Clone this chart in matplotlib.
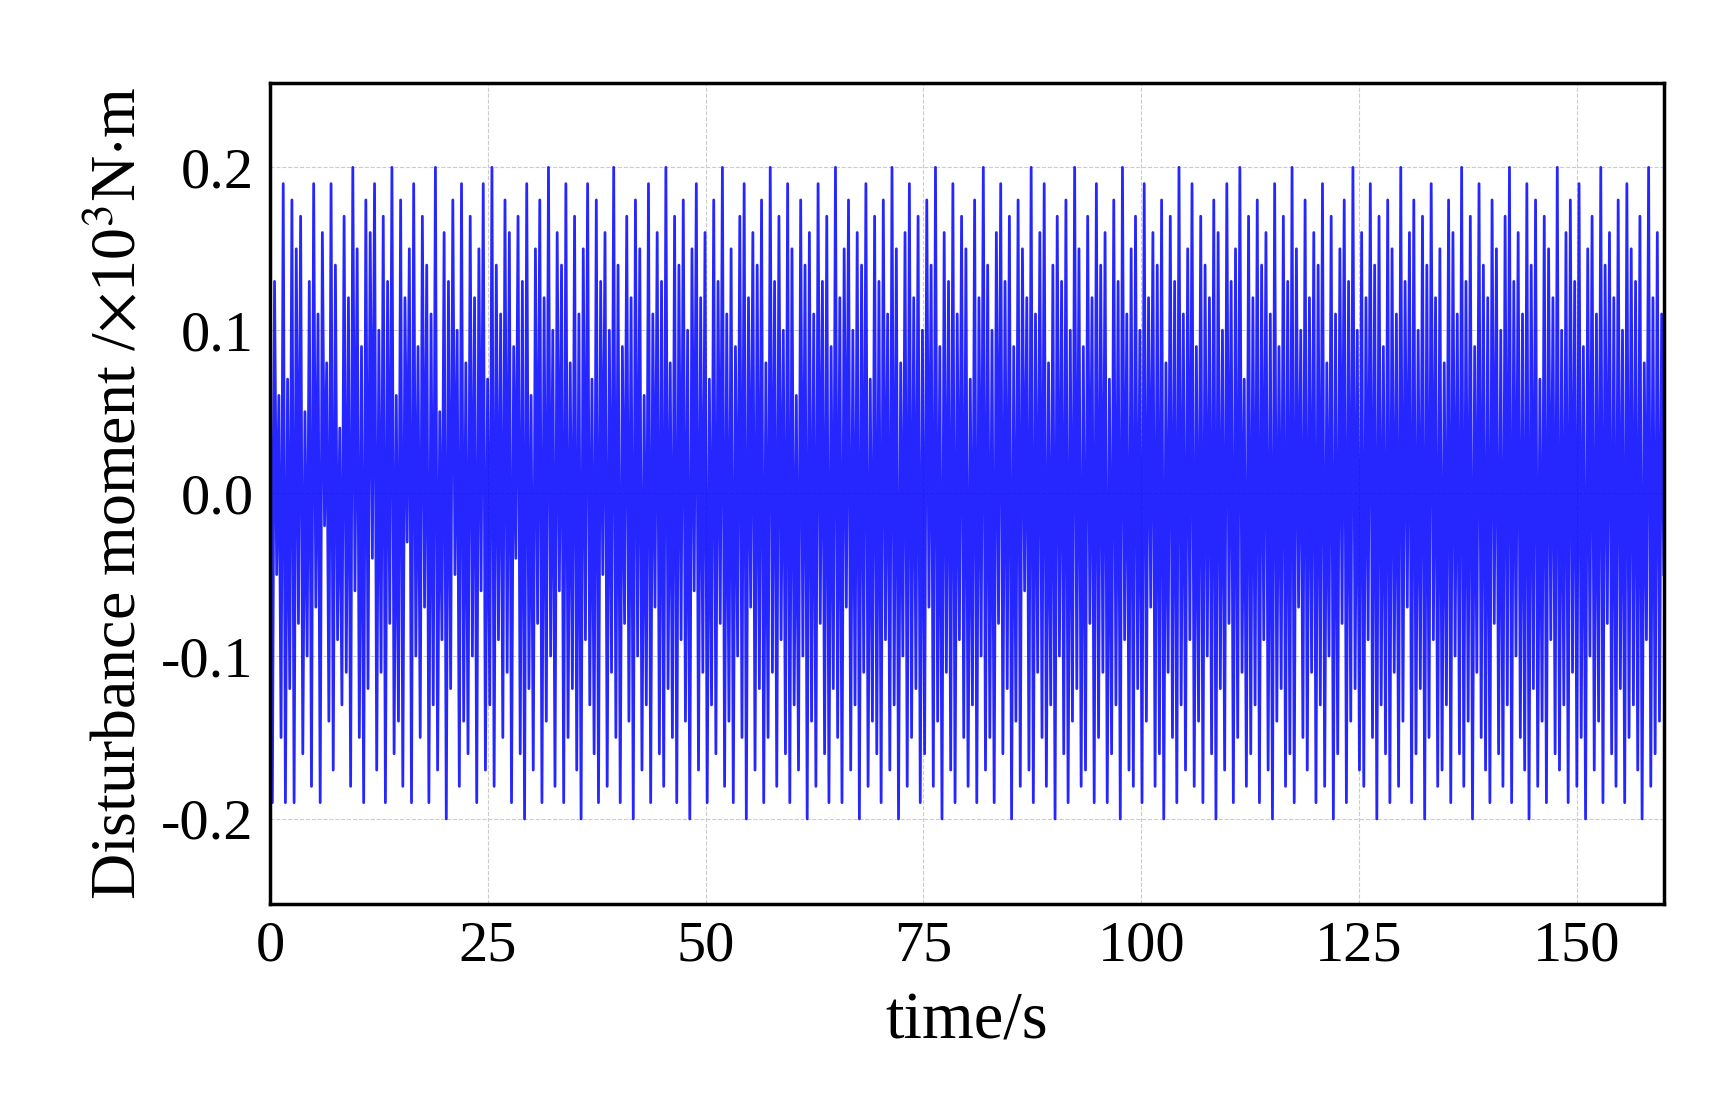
import matplotlib
matplotlib.use("Agg")
import matplotlib.pyplot as plt
import numpy as np

# Disturbance moment values read approximately (0..160 s)
vals = [
0.18,-0.19,0.13,-0.05,0.06,-0.15,0.19,-0.19,0.07,-0.12,0.18,-0.19,0.15,-0.08,0.17,-0.16,0.05,-0.10,0.13,-0.18,
0.19,-0.07,0.11,-0.19,0.16,-0.02,0.08,-0.14,0.19,-0.17,0.14,-0.09,0.04,-0.13,0.17,-0.11,0.12,-0.18,0.20,-0.06,
0.15,-0.15,0.09,-0.19,0.18,-0.12,0.16,-0.04,0.19,-0.17,0.10,-0.11,0.17,-0.19,0.13,-0.08,0.20,-0.16,0.06,-0.14,
0.18,-0.18,0.12,-0.03,0.15,-0.19,0.19,-0.10,0.09,-0.15,0.17,-0.07,0.14,-0.19,0.11,-0.13,0.20,-0.17,0.05,-0.09,
0.16,-0.20,0.13,-0.12,0.18,-0.05,0.10,-0.18,0.19,-0.14,0.08,-0.16,0.17,-0.10,0.12,-0.19,0.15,-0.06,0.19,-0.17,
0.07,-0.13,0.20,-0.18,0.14,-0.09,0.11,-0.15,0.18,-0.11,0.16,-0.19,0.09,-0.04,0.17,-0.16,0.13,-0.20,0.19,-0.12,
0.06,-0.17,0.15,-0.08,0.18,-0.19,0.12,-0.14,0.20,-0.10,0.10,-0.18,0.16,-0.06,0.14,-0.19,0.19,-0.15,0.08,-0.12,
0.17,-0.17,0.11,-0.20,0.15,-0.09,0.19,-0.13,0.07,-0.16,0.18,-0.19,0.13,-0.05,0.16,-0.18,0.10,-0.11,0.20,-0.15,
0.14,-0.19,0.09,-0.08,0.17,-0.14,0.12,-0.20,0.18,-0.10,0.15,-0.17,0.06,-0.13,0.19,-0.19,0.11,-0.07,0.16,-0.16,
0.13,-0.18,0.20,-0.12,0.08,-0.15,0.17,-0.19,0.14,-0.09,0.18,-0.14,0.10,-0.20,0.15,-0.06,0.19,-0.17,0.12,-0.11,
0.16,-0.19,0.07,-0.13,0.18,-0.16,0.13,-0.08,0.20,-0.18,0.11,-0.14,0.15,-0.19,0.09,-0.10,0.17,-0.15,0.19,-0.20,
0.12,-0.07,0.16,-0.17,0.14,-0.12,0.18,-0.19,0.08,-0.15,0.20,-0.11,0.13,-0.18,0.17,-0.09,0.10,-0.16,0.19,-0.19,
0.15,-0.13,0.06,-0.17,0.18,-0.10,0.14,-0.20,0.16,-0.14,0.11,-0.18,0.19,-0.08,0.13,-0.16,0.17,-0.19,0.09,-0.12,
0.20,-0.15,0.12,-0.19,0.15,-0.07,0.18,-0.17,0.10,-0.13,0.16,-0.20,0.14,-0.11,0.19,-0.18,0.07,-0.14,0.17,-0.16,
0.13,-0.19,0.18,-0.09,0.11,-0.17,0.20,-0.13,0.15,-0.20,0.08,-0.10,0.16,-0.18,0.19,-0.15,0.12,-0.12,0.17,-0.19,
0.10,-0.16,0.18,-0.07,0.14,-0.18,0.20,-0.14,0.09,-0.20,0.16,-0.11,0.13,-0.17,0.19,-0.19,0.11,-0.09,0.17,-0.15,
0.15,-0.18,0.07,-0.13,0.18,-0.19,0.12,-0.10,0.20,-0.17,0.14,-0.15,0.10,-0.19,0.16,-0.08,0.19,-0.16,0.13,-0.12,
0.17,-0.20,0.09,-0.14,0.18,-0.18,0.15,-0.06,0.12,-0.17,0.20,-0.19,0.11,-0.11,0.16,-0.15,0.19,-0.18,0.08,-0.13,
0.14,-0.20,0.17,-0.10,0.13,-0.16,0.18,-0.19,0.10,-0.14,0.20,-0.12,0.15,-0.18,0.09,-0.17,0.17,-0.08,0.12,-0.19,
0.19,-0.15,0.14,-0.11,0.16,-0.19,0.07,-0.16,0.18,-0.13,0.13,-0.20,0.20,-0.09,0.11,-0.17,0.15,-0.18,0.17,-0.12,
0.10,-0.19,0.19,-0.14,0.12,-0.07,0.16,-0.18,0.14,-0.16,0.18,-0.20,0.08,-0.11,0.17,-0.15,0.13,-0.19,0.20,-0.13,
0.11,-0.17,0.15,-0.09,0.19,-0.18,0.09,-0.14,0.17,-0.19,0.14,-0.10,0.12,-0.16,0.18,-0.20,0.16,-0.12,0.10,-0.17,
0.19,-0.08,0.13,-0.19,0.15,-0.15,0.20,-0.11,0.07,-0.18,0.17,-0.16,0.12,-0.13,0.18,-0.19,0.14,-0.09,0.16,-0.17,
0.11,-0.20,0.19,-0.14,0.09,-0.12,0.17,-0.18,0.13,-0.16,0.20,-0.19,0.15,-0.07,0.10,-0.15,0.18,-0.17,0.12,-0.11,
0.16,-0.19,0.14,-0.13,0.19,-0.18,0.08,-0.10,0.17,-0.20,0.11,-0.16,0.15,-0.08,0.18,-0.19,0.13,-0.14,0.20,-0.12,
0.10,-0.17,0.16,-0.18,0.12,-0.09,0.19,-0.15,0.14,-0.20,0.17,-0.13,0.09,-0.16,0.18,-0.19,0.15,-0.11,0.11,-0.18,
0.20,-0.14,0.13,-0.07,0.16,-0.19,0.18,-0.16,0.10,-0.12,0.17,-0.20,0.14,-0.15,0.19,-0.09,0.12,-0.18,0.15,-0.17,
0.08,-0.13,0.18,-0.19,0.16,-0.10,0.11,-0.16,0.20,-0.18,0.13,-0.14,0.17,-0.20,0.09,-0.11,0.19,-0.15,0.14,-0.17,
0.12,-0.19,0.18,-0.08,0.15,-0.16,0.10,-0.18,0.17,-0.13,0.20,-0.19,0.13,-0.10,0.16,-0.15,0.11,-0.17,0.19,-0.20,
0.14,-0.12,0.18,-0.18,0.07,-0.14,0.17,-0.19,0.15,-0.09,0.12,-0.16,0.20,-0.17,0.10,-0.13,0.16,-0.19,0.18,-0.11,
0.13,-0.18,0.19,-0.15,0.09,-0.20,0.15,-0.10,0.17,-0.17,0.11,-0.14,0.20,-0.19,0.14,-0.08,0.16,-0.16,0.12,-0.18,
0.18,-0.12,0.10,-0.19,0.19,-0.15,0.15,-0.13,0.13,-0.17,0.17,-0.20,0.08,-0.09,0.20,-0.18,0.12,-0.16,0.16,-0.14,
0.11,-0.05,
]
t = np.linspace(0, 160, len(vals))

plt.rcParams['font.family'] = ['Liberation Serif', 'DejaVu Serif']
plt.rcParams['mathtext.fontset'] = 'stix'
fig = plt.figure(figsize=(17.1, 11.02), dpi=100)
ax = fig.add_axes([0.158, 0.18, 0.815, 0.745])
ax.plot(t, vals, color='#0000ff', lw=2.0, alpha=0.85)
ax.set_xlim(0, 160)
ax.set_ylim(-0.252, 0.252)
ax.set_xticks([0, 25, 50, 75, 100, 125, 150])
ax.set_yticks([-0.2, -0.1, 0.0, 0.1, 0.2])
ax.set_yticklabels(['-0.2', '-0.1', '0.0', '0.1', '0.2'])
ax.grid(True, color='#cccccc', ls='--', lw=0.8)
ax.tick_params(labelsize=42, length=0, pad=12)
for s in ax.spines.values():
    s.set_linewidth(2.5)
ax.set_xlabel('time/s', fontsize=48, labelpad=14)
ax.set_ylabel(r'Disturbance moment /$\times$10$^3$N$\cdot$m', fontsize=46, labelpad=8)
fig.savefig('out.png', dpi=100)
